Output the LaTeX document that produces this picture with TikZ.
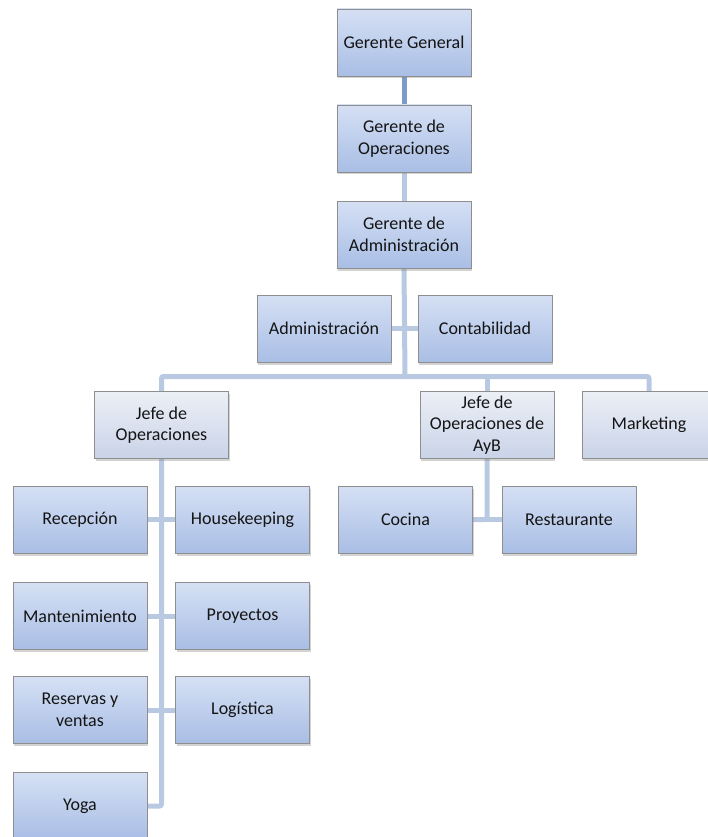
\documentclass[tikz,border=0pt]{standalone}
\usepackage{fontspec}
\setmainfont{Carlito}
\usetikzlibrary{shadows,backgrounds}
\definecolor{boxtop}{HTML}{D5E0F4}
\definecolor{boxbot}{HTML}{A9BEE5}
\definecolor{ltop}{HTML}{ECEFF6}
\definecolor{lbot}{HTML}{C9D3E8}
\definecolor{edgec}{HTML}{8E8E8E}
\definecolor{connc}{HTML}{B9C9E2}
\definecolor{conndark}{HTML}{7B9BCB}
\begin{document}
\begin{tikzpicture}[x=1pt,y=-1pt,
  box/.style={draw=edgec, line width=0.8pt, top color=boxtop, bottom color=boxbot,
    minimum width=134pt, minimum height=67pt, align=center, text=black!92,
    font=\fontsize{18}{21.5}\selectfont, inner sep=2pt,
    drop shadow={shadow xshift=1pt, shadow yshift=-2.5pt, opacity=0.35}},
  lbox/.style={box, top color=ltop, bottom color=lbot},
  conn/.style={draw=connc, line width=5pt, rounded corners=2pt}
]
\useasboundingbox (0,0) rectangle (708,837);
\node[box] (GG) at (404,42.5) {Gerente General};
\node[box] (GO) at (404,138.5) {Gerente de\\Operaciones};
\node[box] (GA) at (404,234.5) {Gerente de\\Administración};
\node[box] (Adm) at (324,328.5) {Administración};
\node[box] (Cont) at (485,328.5) {Contabilidad};
\node[lbox] (JO) at (161.5,425) {Jefe de\\Operaciones};
\node[lbox] (JAyB) at (487,425) {Jefe de\\Operaciones de\\AyB};
\node[lbox] (Mkt) at (649,425) {Marketing};
\node[box] (Coc) at (405.5,519.5) {Cocina};
\node[box] (Rest) at (569,519.5) {Restaurante};
\node[box] (Rec) at (80,519.5) {Recepción};
\node[box] (Hk) at (242.5,519.5) {Housekeeping};
\node[box] (Mant) at (80,616) {Mantenimiento};
\node[box] (Proy) at (242.5,616) {Proyectos};
\node[box] (Res) at (80,710) {Reservas y\\ventas};
\node[box] (Log) at (242.5,710) {Logística};
\node[box] (Yoga) at (80,806) {Yoga};
\coordinate (bus) at (405,376.5);
\begin{scope}[on background layer]
\draw[conn, draw=conndark] (GG.south) -- (GO.north);
\draw[conn] (GO.south) -- (GA.north);
\draw[conn] (GA.south) -- (bus);
\draw[conn] (Adm.east) -- (Cont.west);
\draw[conn] (JO.north) |- (bus) -| (Mkt.north);
\draw[conn] (JAyB.north) -- (JAyB.north |- bus);
\draw[conn] (JO.south) |- (Yoga.east);
\draw[conn] (Rec.east) -- (Hk.west);
\draw[conn] (Mant.east) -- (Proy.west);
\draw[conn] (Res.east) -- (Log.west);
\draw[conn] (JAyB.south) |- (Coc.east);
\draw[conn] (Coc.east) -- (Rest.west);
\end{scope}
\end{tikzpicture}
\end{document}
